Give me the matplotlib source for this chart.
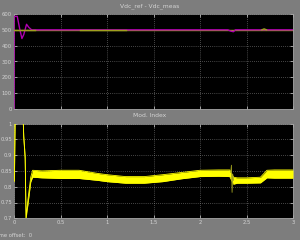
import matplotlib
matplotlib.use("Agg")
import matplotlib.pyplot as plt
from matplotlib import font_manager
import numpy as np

# ---- data: top scope (Vdc_ref - Vdc_meas)
t_ref = [0.0, 3.0]
v_ref = [500, 500]
ref_seg_t = [[0.0, 0.23], [0.71, 1.20], [2.665, 2.69, 2.715]]
ref_seg_v = [[500, 500], [500, 500], [500, 506, 500]]

t_meas = [0.0, 0.001, 0.035, 0.06, 0.085, 0.105, 0.135, 0.16, 0.19, 2.30, 2.33, 2.36, 2.38, 3.0]
v_meas = [0, 585, 585, 510, 445, 470, 535, 515, 500, 500, 492, 488, 500, 500]

# ---- data: bottom scope (Mod. Index) ripple envelope
t_env = [0.0, 0.005, 0.012, 0.10, 0.105, 0.12, 0.13, 0.15, 0.18, 0.20, 0.30, 0.50, 0.70,
         0.90, 1.00, 1.20, 1.40, 1.60, 1.80, 2.00, 2.20, 2.32, 2.36, 2.40, 2.50, 2.65,
         2.72, 2.80, 3.00]
m_upper = [0.826, 0.83, 1.0, 1.0, 0.96, 0.895, 0.70, 0.76, 0.83, 0.852, 0.850, 0.852, 0.852,
           0.842, 0.838, 0.832, 0.832, 0.838, 0.845, 0.852, 0.853, 0.853, 0.830, 0.828, 0.828, 0.830,
           0.852, 0.853, 0.853]
m_lower = [0.816, 0.82, 1.0, 1.0, 0.955, 0.888, 0.70, 0.745, 0.815, 0.830, 0.828, 0.826, 0.826,
           0.820, 0.816, 0.811, 0.811, 0.816, 0.825, 0.832, 0.833, 0.832, 0.808, 0.811, 0.811, 0.812,
           0.828, 0.827, 0.827]
t_spike = [2.33, 2.338, 2.345, 2.352, 2.36]
v_spike = [0.845, 0.868, 0.782, 0.84, 0.82]

xticks = [0, 0.5, 1, 1.5, 2, 2.5, 3]
xticklabels = ["0", "0.5", "1", "1.5", "2", "2.5", "3"]
top_yticks = [0, 100, 200, 300, 400, 500, 600]
bot_yticks = [0.7, 0.75, 0.8, 0.85, 0.9, 0.95, 1.0]
bot_yticklabels = ["0.7", "0.75", "0.8", "0.85", "0.9", "0.95", "1"]

names = {f.name for f in font_manager.fontManager.ttflist}
FAM = ["Liberation Sans Narrow", "DejaVu Sans"] if "Liberation Sans Narrow" in names else ["DejaVu Sans"]
plt.rcParams["font.family"] = FAM

BG = "#7d7d7d"
TXT = "#d4d4d4"
YEL = "#ffff00"
OLIVE = "#a0a020"
MAG = "#b000b0"
FS = 4.6 if FAM[0] != "DejaVu Sans" else 3.8

fig = plt.figure(figsize=(3.0, 2.4), dpi=100, facecolor=BG)
ax1 = fig.add_axes([14/300, 1-109/240, 279/300, 95/240])
ax2 = fig.add_axes([14/300, 1-218.3/240, 279/300, 94.8/240])

for ax in (ax1, ax2):
    ax.set_facecolor("black")
    ax.set_xlim(0, 3)
    ax.set_xticks(xticks)
    ax.grid(True, color="#8a8a8a", linestyle=(0, (1, 2)), linewidth=0.5)
    ax.tick_params(direction="in", length=2, width=0.5, colors=TXT, labelsize=FS,
                   top=True, right=True, pad=1.5)
    for s in ax.spines.values():
        s.set_color("#a0a0a0")
        s.set_linewidth(0.5)

ax1.set_ylim(0, 600)
ax1.set_yticks(top_yticks)
ax1.set_xticklabels([])
ax1.plot(t_ref, v_ref, color=OLIVE, lw=1.0, zorder=2)
ax1.plot(t_meas, v_meas, color=MAG, lw=1.0, zorder=3)
for st, sv in zip(ref_seg_t, ref_seg_v):
    ax1.plot(st, sv, color=OLIVE, lw=1.0, zorder=4)

ax2.set_ylim(0.7, 1.0)
ax2.set_yticks(bot_yticks)
ax2.set_yticklabels(bot_yticklabels)
ax2.set_xticklabels(xticklabels)
ax2.fill_between(t_env, m_lower, m_upper, color=YEL, lw=0, zorder=3)
ax2.plot(t_env, m_upper, color=YEL, lw=0.6, zorder=3)
ax2.plot(t_env, m_lower, color=YEL, lw=0.6, zorder=3)
ax2.plot(t_spike, v_spike, color=OLIVE, lw=0.6, zorder=4)

fig.text(0.5, 1-6/240, "Vdc_ref - Vdc_meas", color=TXT, fontsize=FS+0.5, ha="center", va="center")
fig.text(0.5, 1-115/240, "Mod. Index", color=TXT, fontsize=FS+0.5, ha="center", va="center")
fig.text(32/300, 1-235.5/240, "Time offset:  0", color=TXT, fontsize=FS, ha="right", va="center")

fig.savefig("out.png", dpi=100, facecolor=BG)
